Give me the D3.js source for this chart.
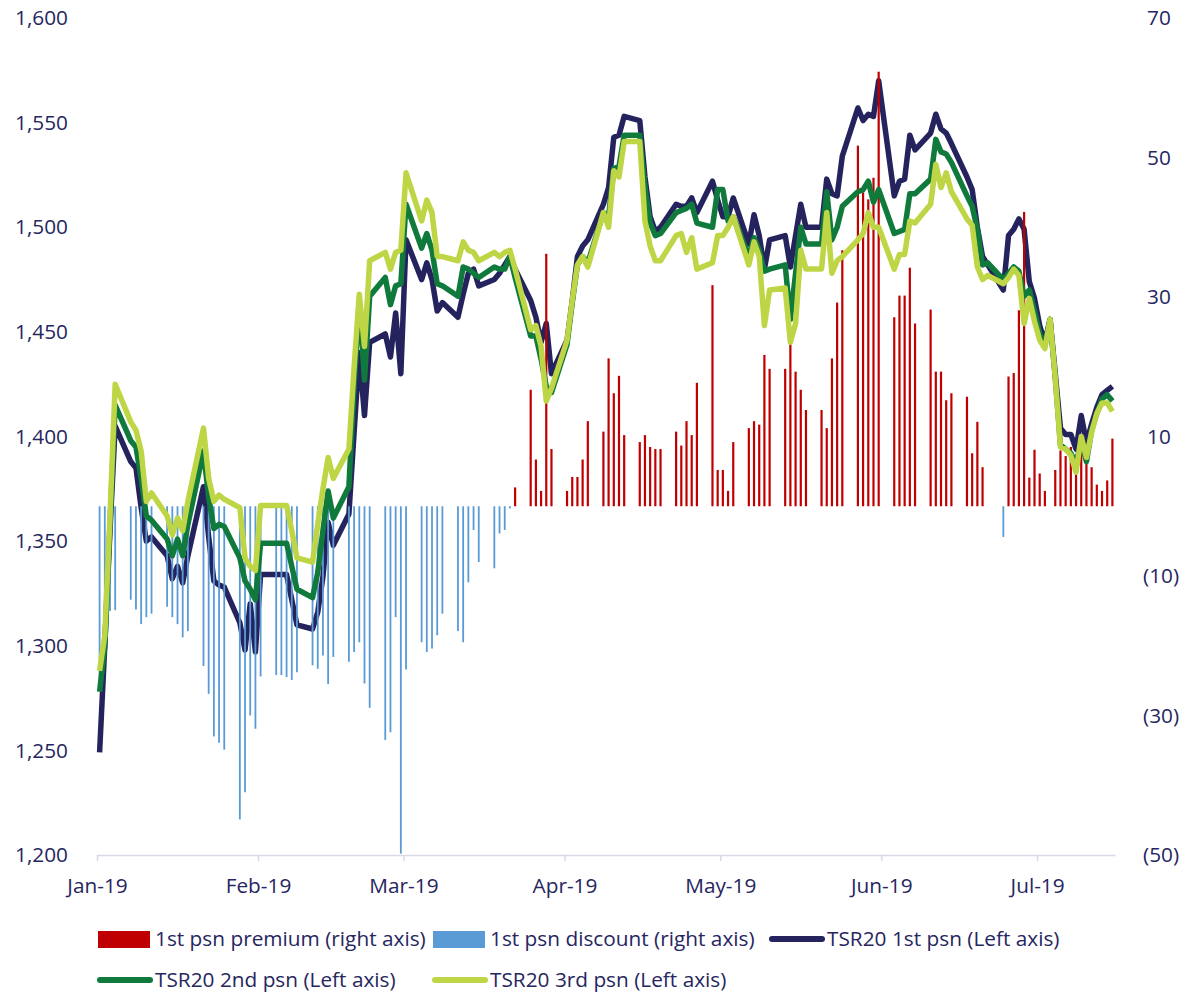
<!DOCTYPE html>
<html>
<head>
<meta charset="utf-8">
<script src="https://cdn.jsdelivr.net/npm/d3@7"></script>
<style>
  body { margin: 0; background: #fff; }
  text { font-family: "Open Sans", Lato, sans-serif; fill: #262660; }
</style>
</head>
<body>
<svg id="chart" width="1182" height="994"></svg>
<script>
// trading dates (2019), one row per week
const dates = [
  "01-01","01-02","01-03","01-04",
  "01-07","01-08","01-09","01-10","01-11",
  "01-14","01-15","01-16","01-17","01-18",
  "01-21","01-22","01-23","01-24","01-25",
  "01-28","01-29","01-30","01-31","02-01",
  "02-04","02-05","02-06","02-07","02-08",
  "02-11","02-12","02-13","02-14","02-15",
  "02-18","02-19","02-20","02-21","02-22",
  "02-25","02-26","02-27","02-28","03-01",
  "03-04","03-05","03-06","03-07","03-08",
  "03-11","03-12","03-13","03-14","03-15",
  "03-18","03-19","03-20","03-21","03-22",
  "03-25","03-26","03-27","03-28","03-29",
  "04-01","04-02","04-03","04-04","04-05",
  "04-08","04-09","04-10","04-11","04-12",
  "04-15","04-16","04-17","04-18","04-19",
  "04-22","04-23","04-24","04-25","04-26",
  "04-29","04-30","05-01","05-02","05-03",
  "05-06","05-07","05-08","05-09","05-10",
  "05-13","05-14","05-15","05-16","05-17",
  "05-20","05-21","05-22","05-23","05-24",
  "05-27","05-28","05-29","05-30","05-31",
  "06-03","06-04","06-05","06-06","06-07",
  "06-10","06-11","06-12","06-13","06-14",
  "06-17","06-18","06-19","06-20","06-21",
  "06-24","06-25","06-26","06-27","06-28",
  "06-29","06-30","07-01","07-02","07-03","07-04","07-05",
  "07-06","07-07","07-08","07-09","07-10","07-11","07-12",
  "07-13","07-14","07-15"
];

// 1st psn premium (+) / discount (-), right axis
const spread = [
  -25, -18, -15, -14.9,
  -13.4, -14.8, -16.9, -15.9, -15.4,
  -14.4, -15.9, -16.9, -18.8, -17.9,
  -22.9, -26.9, -33, -33.9, -34.9,
  -44.9, -41, -30, -31.9, -24.4,
  -24.2, -24.2, -24.5, -24.9, -23.8,
  -22.8, -23.3, -21.4, -25.5, -21.6,
  -22.3, -20.9, -19.5, -25.4, -28.9,
  -33.5, -32.4, -15.9, -49.8, -23.4,
  -19.5, -20.9, -20.4, -18.5, -15.4,
  -17.9, -19.5, -10.9, -3.4, -8,
  -8.9, -3.9, -3.4, -0.3, 2.7,
  16.7, 6.7, 2.2, 36.2, 8.2,
  2.2, 4.2, 4.2, 6.7, 12.2,
  10.7, 21.2, 16.2, 18.7, 10.2,
  9.2, 10.2, 8.5, 8.2, 8.2,
  10.7, 8.7, 12.2, 10.2, 17.7,
  31.7, 5.2, 5.2, 2.2, 9.2,
  11.2, 12.2, 11.7, 21.7, 19.7,
  19.7, 23.8, 19.3, 16.7, 13.8,
  13.8, 11.2, 21.2, 29.2, 36.7,
  51.7, 45, 44, 47.1, 62.3,
  27.1, 30.2, 30.2, 34.2, 26.2,
  28.2, 19.3, 19.3, 15.2, 16.2,
  15.7, 7.6, 12.1, 5.6, 0,
  -4.4, 18.6, 19.1, 28.1, 42.2,
  4.1, 8.1, 4.7, 2.2, 0, 5.2, 8,
  7.2, 8.5, 5.9, 9, 8.5, 5.6, 3.1,
  2.2, 3.7, 9.7
];

// TSR20 1st psn, left axis
const tsr1 = [
  1249, 1300, 1355, 1405,
  1388, 1385, 1366, 1350, 1352,
  1343, 1332, 1338, 1330, 1343,
  1376, 1352, 1331, 1329, 1328,
  1311, 1298, 1320, 1297, 1334,
  1334, 1334, 1334, 1322, 1310,
  1308, 1316, 1333, 1359, 1348,
  1363, 1402, 1440, 1410, 1445,
  1449, 1438, 1459, 1430, 1494,
  1475, 1483, 1475, 1460, 1464,
  1457, 1468, 1478, 1480, 1472,
  1475, 1478, 1482, 1486, 1480,
  1465, 1457, 1445, 1454, 1430,
  1446, 1465, 1486, 1491, 1494,
  1511, 1519, 1543, 1544, 1553,
  1551, 1524, 1505, 1498, 1500,
  1511, 1510, 1510, 1514, 1507,
  1522, 1513, 1505, 1505, 1514,
  1492, 1506, 1496, 1480, 1494,
  1496, 1481, 1496, 1511, 1500,
  1500, 1523, 1516, 1515, 1534,
  1557, 1551, 1554, 1553, 1570,
  1515, 1522, 1523, 1544, 1537,
  1545, 1554, 1547, 1545, 1540,
  1524, 1518, 1500, 1486, 1482,
  1470, 1496, 1499, 1504, 1499,
  1474, 1466, 1453, 1445, 1456, 1430, 1404,
  1401, 1401, 1394, 1410, 1397, 1406, 1414,
  1420, 1422, 1424
];

// TSR20 2nd psn, left axis
const tsr2 = [
  1278, 1300, 1358, 1415,
  1398, 1395, 1380, 1362, 1360,
  1351, 1343, 1351, 1343, 1358,
  1393, 1371, 1356, 1358, 1357,
  1342, 1331, 1327, 1322, 1349,
  1349, 1349, 1349, 1338, 1327,
  1323, 1335, 1355, 1374, 1361,
  1376, 1425, 1465, 1427, 1467,
  1476, 1463, 1472, 1473, 1511,
  1490, 1497, 1489, 1473, 1472,
  1467, 1481, 1480, 1478, 1476,
  1481, 1480, 1480, 1486, 1476,
  1448, 1448, 1437, 1424, 1421,
  1444, 1464, 1482, 1486, 1483,
  1507, 1505, 1528, 1529, 1544,
  1544, 1519, 1502, 1496, 1497,
  1507, 1508, 1509, 1511, 1502,
  1500, 1518, 1518, 1503, 1505,
  1486, 1495, 1489, 1479, 1480,
  1482, 1456, 1478, 1500, 1492,
  1492, 1517, 1494, 1500, 1510,
  1517, 1518, 1522, 1512, 1518,
  1497, 1498, 1499, 1516, 1516,
  1523, 1542, 1536, 1535, 1531,
  1515, 1510, 1499, 1482, 1483,
  1475, 1478, 1481, 1479, 1467,
  1470, 1460, 1449, 1444, 1456, 1428, 1396,
  1394, 1392, 1387, 1398, 1388, 1403, 1411,
  1418, 1420, 1417
];

// TSR20 3rd psn, left axis
const tsr3 = [
  1288, 1305, 1362, 1425,
  1407, 1403, 1393, 1369, 1373,
  1362, 1353, 1361, 1355, 1369,
  1404, 1380, 1369, 1372, 1370,
  1366, 1342, 1338, 1336, 1367,
  1367, 1367, 1367, 1355, 1342,
  1340, 1358, 1375, 1390, 1380,
  1394, 1433, 1468, 1443, 1484,
  1488, 1480, 1488, 1489, 1526,
  1503, 1513, 1507, 1486, 1486,
  1484, 1493, 1489, 1488, 1484,
  1488, 1486, 1488, 1489, 1480,
  1451, 1453, 1443, 1417, 1423,
  1446, 1465, 1482, 1486, 1481,
  1507, 1500, 1527, 1524, 1541,
  1541, 1503, 1491, 1484, 1484,
  1496, 1497, 1488, 1495, 1480,
  1483, 1496, 1496, 1500, 1505,
  1482, 1493, 1486, 1453, 1470,
  1471, 1445, 1454, 1489, 1480,
  1480, 1507, 1478, 1484, 1486,
  1494, 1497, 1507, 1500, 1500,
  1480, 1487, 1487, 1503, 1502,
  1511, 1530, 1519, 1526, 1517,
  1504, 1501, 1481, 1475, 1477,
  1473, 1476, 1480, 1477, 1454,
  1466, 1455, 1446, 1442, 1456, 1428, 1395,
  1394, 1391, 1383, 1400, 1390, 1402, 1411,
  1416, 1416, 1412
];

const leftTicks = [1200, 1250, 1300, 1350, 1400, 1450, 1500, 1550, 1600];
const rightTicks = [-50, -30, -10, 10, 30, 50, 70];

const colors = {
  premium: "#C00000",
  discount: "#5B9BD5",
  tsr1: "#25235E",
  tsr2: "#107A3C",
  tsr3: "#BED645"
};
const fontSize = 20.8;

const parse = d3.timeParse("%Y-%m-%d");
const days = dates.map(s => parse("2019-" + s));

const svg = d3.select("#chart");

const x = d3.scaleTime()
  .domain([new Date(2019, 0, 1), new Date(2019, 6, 16)])
  .range([97, 1115]);
const cx = d => x(d3.timeHour.offset(d, 12)); // centre of the day slot
const yL = d3.scaleLinear().domain([1200, 1600]).range([855, 18]);
const yR = d3.scaleLinear().domain([-50, 70]).range([855, 18]);

// x axis
svg.append("g")
  .attr("transform", "translate(0,855)")
  .call(d3.axisBottom(x)
    .tickValues(d3.timeMonth.range(new Date(2019, 0, 1), new Date(2019, 6, 2)))
    .tickFormat(d3.timeFormat("%b-%y"))
    .tickSize(6)
    .tickSizeOuter(0)
    .tickPadding(17))
  .attr("font-size", fontSize)
  .call(g => g.select(".domain").attr("stroke", "#D9D9EA").attr("stroke-width", 1.5))
  .call(g => g.selectAll(".tick line").attr("stroke", "#D9D9EA").attr("stroke-width", 1.5));

// left axis
svg.append("g")
  .attr("transform", "translate(97,0)")
  .call(d3.axisLeft(yL).tickValues(leftTicks).tickFormat(d3.format(",")).tickSize(0).tickPadding(29))
  .attr("font-size", fontSize)
  .call(g => g.select(".domain").remove());

// right axis, negatives in brackets
svg.append("g")
  .attr("transform", "translate(1116,0)")
  .call(d3.axisRight(yR).tickValues(rightTicks)
    .tickFormat(v => v < 0 ? `(${-v})` : v).tickSize(0).tickPadding(27))
  .attr("font-size", fontSize)
  .call(g => g.select(".domain").remove())
  .call(g => g.selectAll(".tick text").attr("x", d => d < 0 ? 27 : 31));

const rows = days.map((d, i) => ({ d, s: spread[i], a: tsr1[i], b: tsr2[i], c: tsr3[i] }));

const lineOf = key => d3.line().x(r => cx(r.d)).y(r => yL(r[key]));

// 1st psn line
svg.append("path")
  .datum(rows)
  .attr("fill", "none")
  .attr("stroke", colors.tsr1)
  .attr("stroke-width", 5.5)
  .attr("stroke-linejoin", "round")
  .attr("d", lineOf("a"));

// premium / discount bars
svg.append("g")
  .selectAll("rect")
  .data(rows.filter(r => r.s !== 0))
  .join("rect")
  .attr("x", r => cx(r.d) - (r.s > 0 ? 1.1 : 0.9))
  .attr("width", r => r.s > 0 ? 2.2 : 1.8)
  .attr("y", r => r.s > 0 ? yR(r.s) : yR(0))
  .attr("height", r => Math.abs(yR(r.s) - yR(0)))
  .attr("fill", r => r.s > 0 ? colors.premium : colors.discount);

svg.append("path")
  .datum(rows)
  .attr("fill", "none")
  .attr("stroke", colors.tsr2)
  .attr("stroke-width", 5.5)
  .attr("stroke-linejoin", "round")
  .attr("d", lineOf("b"));

svg.append("path")
  .datum(rows)
  .attr("fill", "none")
  .attr("stroke", colors.tsr3)
  .attr("stroke-width", 5.5)
  .attr("stroke-linejoin", "round")
  .attr("d", lineOf("c"));

// legend
const legend = [
  { label: "1st psn premium (right axis)", type: "rect", color: colors.premium, x: 98, y: 939 },
  { label: "1st psn discount (right axis)", type: "rect", color: colors.discount, x: 433, y: 939 },
  { label: "TSR20 1st psn (Left axis)", type: "line", color: colors.tsr1, x: 770, y: 939 },
  { label: "TSR20 2nd psn (Left axis)", type: "line", color: colors.tsr2, x: 98, y: 980 },
  { label: "TSR20 3rd psn (Left axis)", type: "line", color: colors.tsr3, x: 433, y: 980 }
];

const lg = svg.append("g").selectAll("g").data(legend).join("g")
  .attr("transform", d => `translate(${d.x},${d.y})`);

lg.filter(d => d.type === "rect").append("rect")
  .attr("x", 0).attr("y", -8).attr("width", 52).attr("height", 17)
  .attr("fill", d => d.color);

lg.filter(d => d.type === "line").append("line")
  .attr("x1", 2).attr("x2", 52).attr("y1", 0).attr("y2", 0)
  .attr("stroke", d => d.color).attr("stroke-width", 6).attr("stroke-linecap", "round");

lg.append("text")
  .attr("x", 57)
  .attr("dy", "0.35em")
  .attr("font-size", fontSize)
  .text(d => d.label);
</script>
</body>
</html>
